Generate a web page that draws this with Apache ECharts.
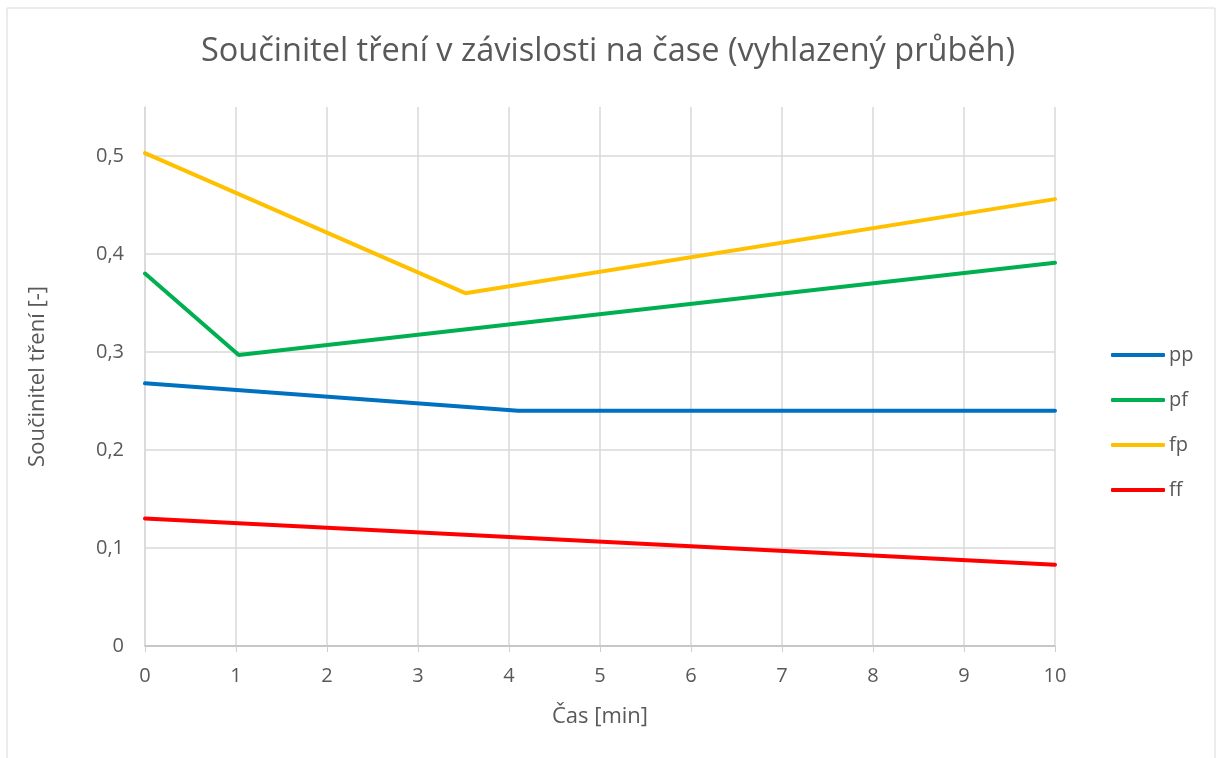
<!DOCTYPE html>
<html>
<head>
<meta charset="utf-8">
<script src="https://cdn.jsdelivr.net/npm/echarts@6/dist/echarts.min.js"></script>
<style>
  html, body { margin: 0; padding: 0; background: #fff; }
  #chart { width: 1216px; height: 758px; }
</style>
</head>
<body>
<div id="chart"></div>
<script>
// Smoothed friction coefficient over time, four material pairings
const seriesNames = ['pp', 'pf', 'fp', 'ff'];
const seriesColors = ['#0070C0', '#00B050', '#FFC000', '#FF0000'];

// [time in min, coefficient]
const ppData = [[0, 0.268], [4.1, 0.240], [10, 0.240]];
const pfData = [[0, 0.380], [1.03, 0.297], [10, 0.391]];
const fpData = [[0, 0.503], [3.52, 0.360], [10, 0.456]];
const ffData = [[0, 0.130], [10, 0.083]];

const allData = [ppData, pfData, fpData, ffData];

const titleText = 'Součinitel tření v závislosti na čase (vyhlazený průběh)';
const xName = 'Čas [min]';
const yName = 'Součinitel tření [-]';

const font = 'Open Sans';
const textColor = '#595959';

const chart = echarts.init(document.getElementById('chart'));

chart.setOption({
  animation: false,
  backgroundColor: '#fff',
  title: {
    text: titleText,
    left: 'center',
    top: 30,
    textStyle: { fontFamily: font, fontSize: 32.5, fontWeight: 'normal', color: textColor }
  },
  graphic: [{
    type: 'rect',
    shape: { x: 7, y: 8, width: 1208, height: 760 },
    style: { fill: 'none', stroke: '#d9d9d9', lineWidth: 1 },
    silent: true
  }],
  legend: {
    orient: 'vertical',
    left: 1106,
    top: 340,
    icon: 'roundRect',
    itemWidth: 54,
    itemHeight: 4,
    itemGap: 25,
    textStyle: { fontFamily: font, fontSize: 20, lineHeight: 20, color: textColor, padding: [0, 0, 0, -1] },
    data: seriesNames
  },
  grid: { left: 145, right: 161, top: 107, bottom: 112, containLabel: false },
  xAxis: {
    type: 'value',
    min: 0, max: 10, interval: 1,
    name: xName,
    nameLocation: 'middle',
    nameGap: 60,
    nameTextStyle: { fontFamily: font, fontSize: 22, color: textColor },
    axisLine: { show: true, lineStyle: { color: '#bfbfbf', width: 1.5 } },
    axisTick: { show: true, length: 6, lineStyle: { color: '#d0d0d0' } },
    axisLabel: { fontFamily: font, fontSize: 20, color: textColor, margin: 20 },
    splitLine: { show: true, lineStyle: { color: '#d9d9d9', width: 1.5 } }
  },
  yAxis: {
    type: 'value',
    min: 0, max: 0.55, interval: 0.1,
    name: yName,
    nameLocation: 'middle',
    nameGap: 96,
    nameTextStyle: { fontFamily: font, fontSize: 22, color: textColor },
    axisLine: { show: true, lineStyle: { color: '#d9d9d9', width: 1.5 } },
    axisTick: { show: false },
    axisLabel: {
      fontFamily: font, fontSize: 20, color: textColor, margin: 21,
      showMaxLabel: false,
      formatter: v => (Math.round(v * 10) / 10).toString().replace('.', ',')
    },
    splitLine: { show: true, showMaxLine: false, lineStyle: { color: '#d9d9d9', width: 1.5 } }
  },
  series: seriesNames.map((n, i) => ({
    name: n,
    type: 'line',
    data: allData[i],
    symbol: 'none',
    color: seriesColors[i],
    lineStyle: { width: 4, color: seriesColors[i], cap: 'round' },
    z: 10 - i
  }))
});
</script>
</body>
</html>
